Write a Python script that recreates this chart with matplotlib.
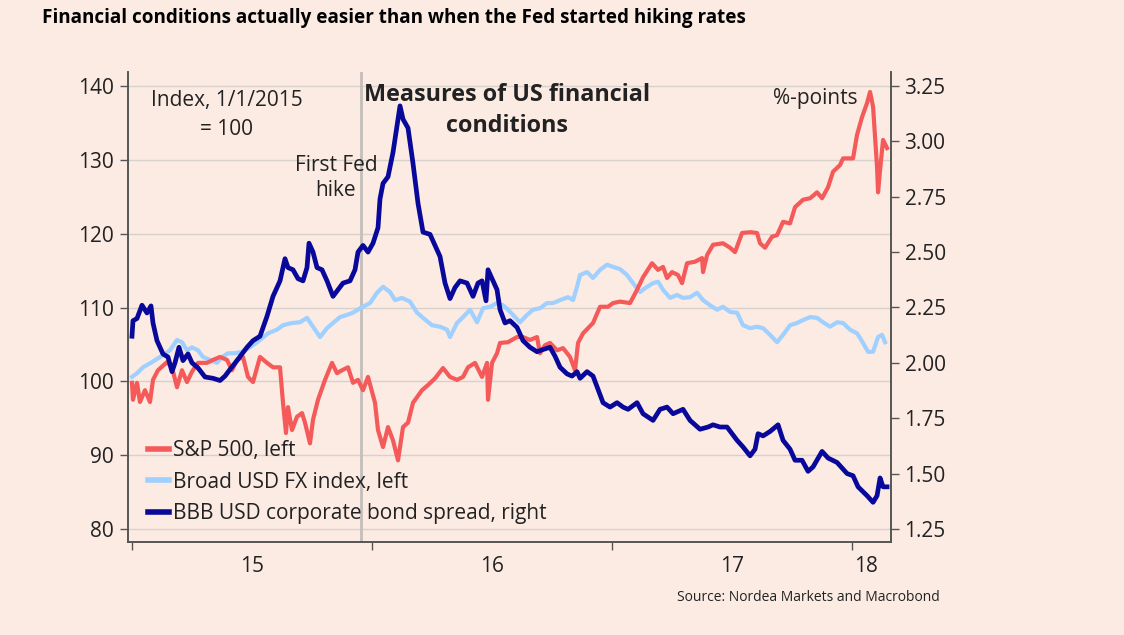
"""
Measures of US financial conditions: S&P 500, broad USD index and BBB spread.
"""

import numpy as np
import matplotlib
matplotlib.use('Agg')
import matplotlib.pyplot as plt
from matplotlib.lines import Line2D

# x values are months since 1 Jan 2015
spx_months = [0.0, 0.05, 0.25, 0.4, 0.65, 0.9, 1.05, 1.3, 1.75, 2.0, 2.25, 2.5, 2.75, 3.0, 3.3,
              3.75, 4.05, 4.4, 4.75, 5.0, 5.25, 5.55, 5.8, 6.05, 6.4, 6.75, 7.05, 7.4, 7.55,
              7.7, 7.8, 8.0, 8.25, 8.5, 8.65, 8.9, 9.05, 9.3, 9.65, 10.0, 10.25, 10.5, 10.8,
              11.05, 11.3, 11.55, 11.8, 12.15, 12.3, 12.55, 12.8, 13.05, 13.3, 13.55, 13.8,
              14.05, 14.5, 14.8, 15.15, 15.55, 15.9, 16.25, 16.55, 16.8, 17.15, 17.5, 17.75,
              17.8, 18.0, 18.25, 18.4, 18.8, 19.25, 19.55, 19.9, 20.25, 20.4, 20.65, 20.9,
              21.25, 21.55, 21.9, 22.15, 22.3, 22.55, 22.8, 23.05, 23.4, 23.8, 24.05, 24.4,
              24.9, 25.25, 25.55, 26.0, 26.3, 26.55, 26.75, 27.0, 27.3, 27.5, 27.75, 28.15,
              28.5, 28.55, 28.75, 29.05, 29.55, 29.9, 30.15, 30.5, 30.9, 31.25, 31.4, 31.65,
              32.0, 32.25, 32.55, 32.9, 33.15, 33.55, 33.9, 34.25, 34.5, 34.8, 35.05, 35.4,
              35.55, 35.9, 36.05, 36.25, 36.5, 36.75, 36.9, 37.05, 37.15, 37.25, 37.3, 37.4,
              37.55, 37.75]
spx = [99.8, 97.5, 99.8, 97.2, 98.8, 97.2, 100.2, 101.5, 102.6, 101.9, 99.2, 101.5, 99.9,
       101.3, 102.5, 102.5, 102.9, 103.3, 102.9, 101.5, 102.9, 103.3, 100.6, 99.9, 103.3,
       102.5, 101.9, 101.9, 97.1, 93.0, 96.5, 93.4, 95.2, 95.7, 94.4, 91.6, 94.8, 97.5,
       100.2, 102.5, 101.1, 101.5, 101.9, 99.8, 100.2, 98.8, 100.6, 97.1, 93.4, 91.1, 93.8,
       92.0, 89.3, 93.8, 94.4, 97.1, 98.8, 99.5, 100.4, 101.8, 100.6, 100.2, 100.6, 101.9,
       102.5, 100.6, 102.5, 97.5, 102.5, 103.8, 105.2, 105.3, 106.0, 106.0, 105.6, 106.0,
       103.8, 104.9, 105.2, 104.2, 104.5, 103.3, 101.5, 105.2, 106.5, 107.2, 107.9, 110.1,
       110.1, 110.6, 110.8, 110.6, 112.4, 114.1, 116.0, 115.1, 115.5, 114.0, 114.8, 114.4,
       113.3, 116.0, 116.2, 116.7, 114.8, 117.1, 118.5, 118.7, 118.1, 117.5, 120.1, 120.2,
       120.1, 118.7, 118.1, 119.6, 119.8, 121.6, 121.4, 123.6, 124.6, 124.8, 125.6, 124.8,
       126.3, 128.4, 129.3, 130.2, 130.2, 130.2, 133.4, 135.8, 137.7, 139.2, 137.2, 133.1,
       129.0, 125.6, 128.6, 132.7, 131.6]

usd_months = [0.0, 0.25, 0.55, 1.0, 1.4, 1.9, 2.25, 2.5, 2.75, 3.0, 3.3, 3.55, 3.9, 4.25, 4.5,
              4.8, 5.15, 5.5, 5.9, 6.4, 6.8, 7.25, 7.55, 8.0, 8.4, 8.75, 9.05, 9.4, 9.75,
              10.05, 10.4, 10.75, 11.05, 11.4, 11.9, 12.25, 12.55, 12.9, 13.15, 13.5, 13.9,
              14.25, 14.55, 15.0, 15.4, 15.75, 15.9, 16.25, 16.55, 16.9, 17.25, 17.55, 17.9,
              18.25, 18.55, 18.8, 19.15, 19.4, 19.75, 20.05, 20.4, 20.75, 21.05, 21.4, 21.8,
              22.05, 22.25, 22.4, 22.75, 23.05, 23.4, 23.75, 24.05, 24.4, 24.75, 25.05, 25.4,
              25.75, 26.05, 26.3, 26.55, 26.9, 27.25, 27.55, 27.9, 28.25, 28.55, 28.9, 29.25,
              29.55, 29.9, 30.25, 30.55, 30.9, 31.25, 31.55, 31.9, 32.25, 32.55, 32.9, 33.25,
              33.55, 33.9, 34.25, 34.55, 34.9, 35.25, 35.55, 35.9, 36.25, 36.55, 36.8, 37.05,
              37.3, 37.5, 37.65]
usd = [100.6, 101.1, 101.9, 102.6, 103.3, 104.2, 105.6, 105.3, 104.2, 104.6, 104.2, 103.3,
       102.9, 102.5, 103.3, 103.8, 103.8, 104.0, 104.6, 105.6, 106.5, 107.0, 107.6, 107.9,
       108.0, 108.6, 107.4, 106.0, 107.2, 107.9, 108.7, 109.0, 109.3, 109.9, 110.6, 112.0,
       112.8, 112.1, 111.0, 111.3, 110.8, 109.3, 108.6, 107.6, 107.4, 107.0, 106.0, 107.9,
       108.7, 109.7, 108.0, 109.9, 110.1, 110.6, 110.3, 109.7, 108.7, 108.0, 109.0, 109.7,
       109.9, 110.6, 110.6, 111.0, 111.4, 111.0, 112.8, 114.4, 114.8, 114.0, 115.1, 115.8,
       115.5, 115.2, 114.4, 113.3, 112.1, 112.8, 113.3, 113.5, 112.4, 111.3, 111.7, 111.3,
       111.4, 112.0, 111.0, 110.3, 109.7, 110.1, 109.4, 109.3, 107.6, 107.2, 107.4, 107.2,
       106.3, 105.3, 106.3, 107.6, 107.9, 108.3, 108.7, 108.6, 108.0, 107.4, 108.0, 107.9,
       107.0, 106.5, 105.2, 104.0, 104.0, 106.0, 106.3, 105.3]

bbb_months = [0.0, 0.05, 0.25, 0.5, 0.75, 0.95, 1.05, 1.25, 1.55, 1.8, 2.0, 2.15, 2.35, 2.55,
              2.8, 3.0, 3.3, 3.65, 4.05, 4.4, 4.65, 4.9, 5.25, 5.5, 5.75, 6.05, 6.4, 6.75,
              7.05, 7.4, 7.65, 7.8, 8.05, 8.3, 8.55, 8.75, 8.85, 9.05, 9.25, 9.5, 9.75, 10.05,
              10.3, 10.55, 10.9, 11.15, 11.3, 11.55, 11.8, 12.05, 12.3, 12.4, 12.55, 12.8,
              13.05, 13.25, 13.4, 13.55, 13.8, 14.05, 14.3, 14.55, 14.9, 15.15, 15.4, 15.65,
              15.9, 16.15, 16.4, 16.75, 17.05, 17.3, 17.5, 17.7, 17.8, 18.05, 18.25, 18.4,
              18.65, 18.9, 19.25, 19.55, 19.9, 20.25, 20.55, 20.9, 21.15, 21.4, 21.75, 22.0,
              22.25, 22.4, 22.75, 23.05, 23.3, 23.55, 23.9, 24.25, 24.55, 24.8, 25.25, 25.55,
              26.05, 26.4, 26.75, 27.05, 27.55, 27.9, 28.4, 28.8, 29.05, 29.4, 29.75, 30.25,
              30.55, 30.9, 31.15, 31.3, 31.55, 31.9, 32.3, 32.55, 32.9, 33.15, 33.5, 33.8,
              34.05, 34.5, 34.8, 35.25, 35.75, 36.05, 36.3, 36.75, 37.05, 37.25, 37.4, 37.55,
              37.75]
bbb = [2.12, 2.19, 2.20, 2.26, 2.225, 2.257, 2.18, 2.10, 2.04, 2.026, 1.96, 2.00, 2.07, 2.01,
       2.04, 2.00, 1.977, 1.936, 1.93, 1.92, 1.94, 1.97, 2.01, 2.04, 2.07, 2.10, 2.12, 2.21,
       2.30, 2.37, 2.47, 2.43, 2.42, 2.38, 2.37, 2.43, 2.54, 2.50, 2.43, 2.42, 2.37, 2.30,
       2.33, 2.36, 2.37, 2.42, 2.50, 2.53, 2.50, 2.54, 2.61, 2.74, 2.81, 2.84, 2.95, 3.07,
       3.16, 3.10, 3.06, 2.90, 2.72, 2.59, 2.58, 2.53, 2.48, 2.36, 2.29, 2.34, 2.37, 2.36,
       2.30, 2.36, 2.37, 2.28, 2.42, 2.37, 2.33, 2.24, 2.18, 2.19, 2.16, 2.10, 2.07, 2.05,
       2.06, 2.07, 2.03, 1.98, 1.95, 1.94, 1.96, 1.93, 1.96, 1.94, 1.88, 1.82, 1.80, 1.82,
       1.80, 1.79, 1.82, 1.77, 1.74, 1.79, 1.80, 1.77, 1.79, 1.74, 1.70, 1.71, 1.72, 1.71,
       1.71, 1.65, 1.62, 1.58, 1.61, 1.68, 1.67, 1.69, 1.72, 1.65, 1.61, 1.56, 1.56, 1.51,
       1.53, 1.60, 1.57, 1.55, 1.50, 1.49, 1.44, 1.40, 1.37, 1.40, 1.48, 1.44, 1.44]

year_labels = ['15', '16', '17', '18']
fed_hike_month = 11.45  # 16 Dec 2015

bg = '#FCEBE3'
red = '#F55A5A'
light_blue = '#9FD0FF'
navy = '#08089A'
axis_grey = '#555555'
text_col = '#222222'

plt.rcParams['font.family'] = ['Open Sans', 'DejaVu Sans']
plt.rcParams['font.size'] = 14

fig = plt.figure(figsize=(11.24, 6.35), dpi=100, facecolor=bg)
ax = fig.add_axes([0.1136, 0.1465, 0.6788, 0.7401])
ax.set_facecolor(bg)
ax2 = ax.twinx()

ax.set_xlim(-0.215, 37.93)
ax.set_ylim(78.24, 141.9)
ax2.set_ylim(1.191, 3.313)

# gridlines and first hike marker
ax.set_yticks([80, 90, 100, 110, 120, 130, 140])
ax.grid(axis='y', color='#D8D0CA', lw=1.0)
ax.set_axisbelow(True)
ax.axvline(fed_hike_month, color='#C4BEBA', lw=2, zorder=1)

ax.plot(spx_months, spx, color=red, lw=3.0, solid_joinstyle='round', zorder=3)
ax.plot(usd_months, usd, color=light_blue, lw=3.0, solid_joinstyle='round', zorder=2)
ax2.plot(bbb_months, bbb, color=navy, lw=3.4, solid_joinstyle='round')

ax2.set_yticks([1.25, 1.5, 1.75, 2.0, 2.25, 2.5, 2.75, 3.0, 3.25])
ax2.set_yticklabels(['%.2f' % v for v in ax2.get_yticks()])

# year ticks at year boundaries, labels centred on each year
ax.set_xticks([0, 12, 24, 36])
ax.set_xticklabels([])
ax.set_xticks([6, 18, 30, 36.7], minor=True)
ax.set_xticklabels(year_labels, minor=True)
ax.tick_params(axis='x', which='minor', length=0, pad=10)

for a in (ax, ax2):
    a.spines['top'].set_visible(False)
    for s in ('left', 'right', 'bottom'):
        a.spines[s].set_color(axis_grey)
        a.spines[s].set_linewidth(1.2)
    a.tick_params(which='major', direction='out', length=6, width=1, color=axis_grey,
                  labelsize=15, labelcolor=text_col)
    a.tick_params(which='minor', labelsize=15, labelcolor=text_col)
ax.tick_params(axis='y', pad=4)
ax2.tick_params(axis='y', pad=4)

ax.text(0.130, 0.9085, 'Index, 1/1/2015\n= 100', transform=ax.transAxes, ha='center',
        va='center', fontsize=15, color=text_col, linespacing=1.45)
ax.text(0.273, 0.7755, 'First Fed\nhike', transform=ax.transAxes, ha='center',
        va='center', fontsize=15, color=text_col, linespacing=1.25)
ax.text(0.497, 0.918, 'Measures of US financial\nconditions', transform=ax.transAxes,
        ha='center', va='center', fontsize=16.8, fontweight='bold', color=text_col,
        linespacing=1.35)
ax.text(0.901, 0.9426, '%-points', transform=ax.transAxes, ha='center', va='center',
        fontsize=15, color=text_col)

handles = [Line2D([], [], color=red, lw=4),
           Line2D([], [], color=light_blue, lw=4),
           Line2D([], [], color=navy, lw=4)]
labels = ['S&P 500, left', 'Broad USD FX index, left', 'BBB USD corporate bond spread, right']
ax2.legend(handles, labels, loc='lower left', bbox_to_anchor=(0.008, 0.0064), frameon=False,
           fontsize=15, handlelength=1.0, handletextpad=0.2, labelspacing=0.51,
           borderaxespad=0.3, labelcolor=text_col)

fig.text(0.0374, 0.9717, 'Financial conditions actually easier than when the Fed started hiking rates',
         ha='left', va='center', fontsize=13.6, fontweight='bold', color='black')
fig.text(0.8363, 0.0583, 'Source: Nordea Markets and Macrobond', ha='right', va='center',
         fontsize=10, color=text_col)

fig.savefig('out.png', dpi=100, facecolor=bg)
